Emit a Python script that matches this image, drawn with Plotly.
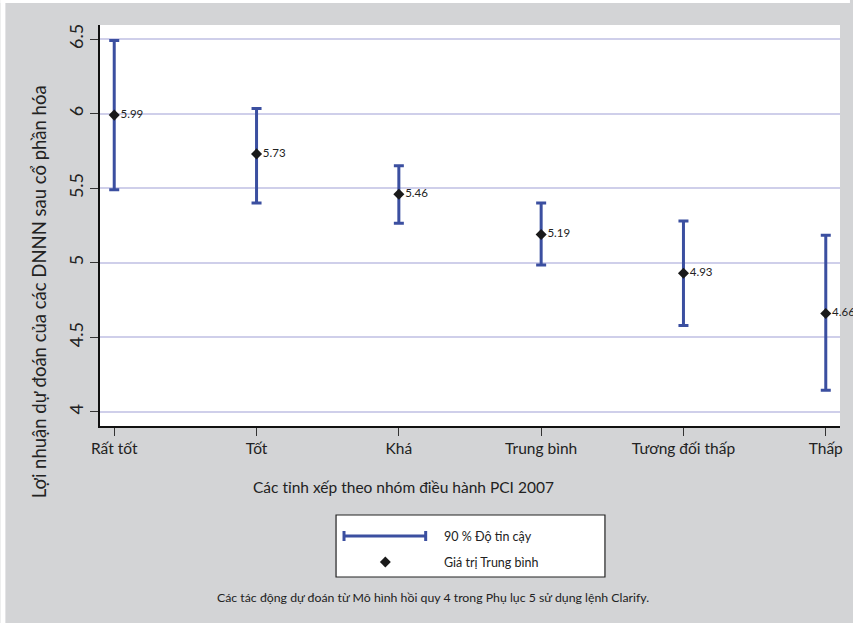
import plotly.graph_objects as go

categories = ["Rất tốt", "Tốt", "Khá", "Trung bình", "Tương đối thấp", "Thấp"]
means = [5.99, 5.73, 5.46, 5.19, 4.93, 4.66]
upper = [6.49, 6.035, 5.65, 5.40, 5.28, 5.185]
lower = [5.49, 5.40, 5.265, 4.985, 4.58, 4.145]
yticks = [4, 4.5, 5, 5.5, 6, 6.5]
yticklabels = ["4", "4.5", "5", "5.5", "6", "6.5"]

FONT = "Lato, 'Open Sans', sans-serif"
BLUE = "#3b4fa0"
GRAY = "#d3d4d6"

# plot area pixel geometry
L, R, T, B = 100, 843, 25, 426
W, H = 853, 623


def px(x):
    return (x - L) / (R - L)


def py(y):
    return (B - y) / (B - T)


fig = go.Figure()
fig.add_trace(go.Scatter(
    x=categories,
    y=means,
    mode="markers+text",
    marker=dict(symbol="diamond", size=8.5, color="#1a1a1a"),
    text=[f"{v:.2f}" for v in means],
    textposition="middle right",
    textfont=dict(family=FONT, size=11.5, color="#222222"),
    error_y=dict(
        type="data",
        symmetric=False,
        array=[u - m for u, m in zip(upper, means)],
        arrayminus=[m - l for m, l in zip(means, lower)],
        color=BLUE,
        thickness=3,
        width=5,
    ),
    cliponaxis=False,
    showlegend=False,
))

shapes = []
# white strips at left/top edges
shapes.append(dict(type="rect", xref="paper", yref="paper",
                   x0=px(0), x1=px(5), y0=py(H), y1=py(0),
                   fillcolor="white", line=dict(width=0), layer="above"))
shapes.append(dict(type="rect", xref="paper", yref="paper",
                   x0=px(0), x1=px(W), y0=py(3), y1=py(0),
                   fillcolor="white", line=dict(width=0), layer="above"))
# legend box
shapes.append(dict(type="rect", xref="paper", yref="paper",
                   x0=px(337), x1=px(607), y0=py(577), y1=py(515),
                   fillcolor="white", line=dict(color="#222222", width=1.2)))
# legend error bar sample
ly = 536
shapes.append(dict(type="line", xref="paper", yref="paper",
                   x0=px(345), x1=px(427), y0=py(ly), y1=py(ly),
                   line=dict(color=BLUE, width=3)))
for xx in (345, 427):
    shapes.append(dict(type="line", xref="paper", yref="paper",
                       x0=px(xx), x1=px(xx), y0=py(ly - 5), y1=py(ly + 5),
                       line=dict(color=BLUE, width=3)))
# legend diamond sample
dx, dy, r = 386.5, 562, 5.5
shapes.append(dict(type="path", xref="paper", yref="paper",
                   path=(f"M {px(dx)},{py(dy - r)} L {px(dx + r)},{py(dy)} "
                         f"L {px(dx)},{py(dy + r)} L {px(dx - r)},{py(dy)} Z"),
                   fillcolor="#1a1a1a", line=dict(width=0)))

annotations = [
    dict(text="Lợi nhuận dự đoán của các DNNN sau cổ phần hóa", xref="paper", yref="paper",
         x=px(39), y=py(292), textangle=-90, showarrow=False,
         xanchor="center", yanchor="middle",
         font=dict(family=FONT, size=18.5, color="#222222")),
    dict(text="Các tỉnh xếp theo nhóm điều hành PCI 2007", xref="paper", yref="paper",
         x=px(405), y=py(487), showarrow=False, xanchor="center", yanchor="middle",
         font=dict(family=FONT, size=15.5, color="#222222")),
    dict(text="90 % Độ tin cậy", xref="paper", yref="paper",
         x=px(443), y=py(536), showarrow=False, xanchor="left", yanchor="middle",
         font=dict(family=FONT, size=12.5, color="#222222")),
    dict(text="Giá trị Trung bình", xref="paper", yref="paper",
         x=px(443), y=py(562), showarrow=False, xanchor="left", yanchor="middle",
         font=dict(family=FONT, size=12.5, color="#222222")),
    dict(text="Các tác động dự đoán từ Mô hình hồi quy 4 trong Phụ lục 5 sử dụng lệnh Clarify.",
         xref="paper", yref="paper", x=px(434), y=py(597), showarrow=False,
         xanchor="center", yanchor="middle",
         font=dict(family=FONT, size=12.3, color="#222222")),
]

fig.update_layout(
    width=W, height=H,
    margin=dict(l=L, r=W - R, t=T, b=H - B, pad=0),
    paper_bgcolor=GRAY,
    plot_bgcolor="white",
    font=dict(family=FONT, color="#222222"),
    shapes=shapes,
    annotations=annotations,
    showlegend=False,
    xaxis=dict(
        type="category",
        categoryorder="array", categoryarray=categories,
        range=[-0.1, 5.1],
        showgrid=False, zeroline=False,
        showline=True, linecolor="#111111", linewidth=1.5,
        ticks="outside", ticklen=8, tickwidth=1, tickcolor="#333333",
        tickfont=dict(family=FONT, size=15.5, color="#222222"),
    ),
    yaxis=dict(
        range=[3.906, 6.594],
        tickvals=yticks, ticktext=yticklabels,
        tickangle=-90,
        showgrid=True, gridcolor="#cfcfea", gridwidth=1.5,
        zeroline=False,
        showline=True, linecolor="#111111", linewidth=1.5,
        ticks="outside", ticklen=8, tickwidth=1, tickcolor="#333333",
        tickfont=dict(family=FONT, size=18, color="#222222"),
    ),
)

fig.write_html(
    "out.html",
    config={"displayModeBar": False},
    post_script="document.body.style.margin='0';document.body.style.padding='0';",
)
